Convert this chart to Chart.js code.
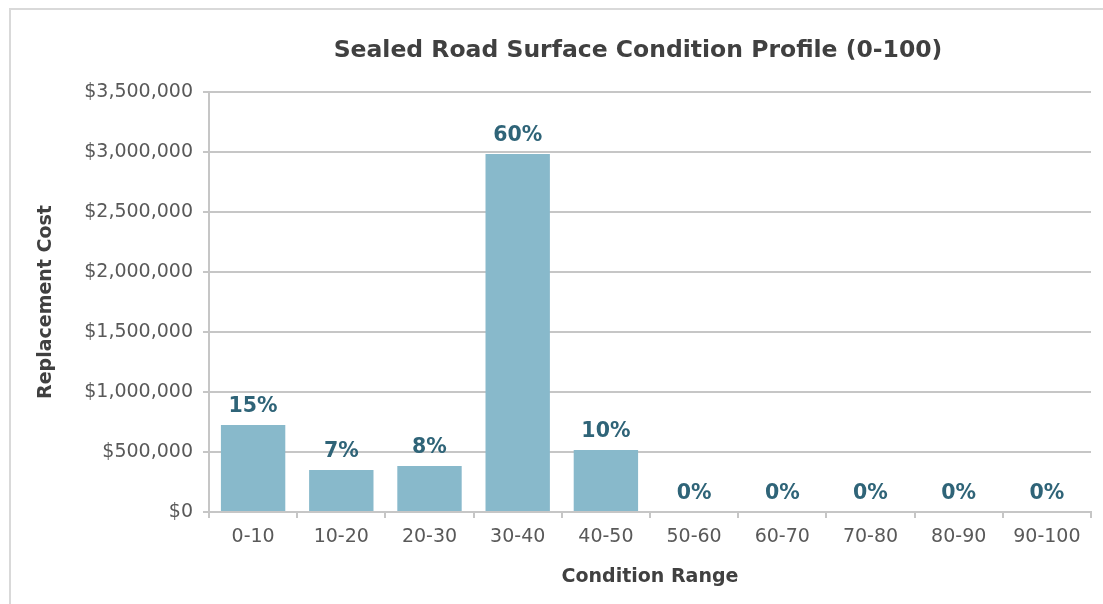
<!DOCTYPE html>
<html>
<head>
<meta charset="utf-8">
<script src="https://cdn.jsdelivr.net/npm/chart.js@4"></script>
<style>
html,body{margin:0;padding:0;background:#fff;overflow:hidden}
#frame{position:absolute;left:9px;top:8px;width:1200px;height:700px;border-left:2px solid #d9d9d9;border-top:2px solid #d9d9d9}
#wrap{position:absolute;left:0;top:0;width:1103px;height:604px}
</style>
</head>
<body>
<div id="frame"></div>
<div id="wrap"><canvas id="c" width="1103" height="604"></canvas></div>
<script>
// data
const ranges = ['0-10','10-20','20-30','30-40','40-50','50-60','60-70','70-80','80-90','90-100'];
const replacementCost = [725000, 350000, 383000, 2983000, 517000, 0, 0, 0, 0, 0];
const yMax = 3500000, yStep = 500000;

const chartTitle = 'Sealed Road Surface Condition Profile (0-100)';
const FONT = "'DejaVu Sans', Verdana, sans-serif";
const GRID = '#c6c6c6';

const total = replacementCost.reduce((a,b)=>a+b,0);
const pct = v => Math.round(v/total*100) + '%';

// title drawn over the plot
const titlePlugin = {
  id:'titleText',
  afterDraw(chart){
    const ctx = chart.ctx;
    ctx.save();
    ctx.font = 'bold 23.5px ' + FONT;
    ctx.fillStyle = '#404040';
    ctx.textAlign = 'center';
    ctx.textBaseline = 'middle';
    ctx.fillText(chartTitle, 638, 51);
    ctx.restore();
  }
};

// percentage labels above bars
const pctLabels = {
  id:'pctLabels',
  afterDatasetsDraw(chart){
    const ctx = chart.ctx;
    const meta = chart.getDatasetMeta(0);
    ctx.save();
    ctx.font = 'bold 20.5px ' + FONT;
    ctx.fillStyle = '#2f6478';
    ctx.textAlign = 'center';
    ctx.textBaseline = 'middle';
    meta.data.forEach((bar,i)=>{
      ctx.fillText(pct(replacementCost[i]), bar.x, bar.y - 18);
    });
    ctx.restore();
  }
};

new Chart(document.getElementById('c'), {
  type:'bar',
  data:{
    labels: ranges,
    datasets:[{
      data: replacementCost,
      backgroundColor:'#88b9cb',
      barPercentage:0.73,
      categoryPercentage:1
    }]
  },
  options:{
    responsive:false,
    animation:false,
    layout:{ padding:{ top:92, right:12, left:0, bottom:0 } },
    plugins:{ legend:{display:false}, tooltip:{enabled:false} },
    scales:{
      x:{
        grid:{ drawOnChartArea:false, color:GRID, lineWidth:2, tickLength:6, offset:true },
        border:{ color:GRID, width:2 },
        ticks:{ color:'#595959', font:{family:FONT, size:19}, padding:8 },
        title:{ display:true, text:'Condition Range', color:'#404040',
                font:{family:FONT, size:19, weight:'bold'}, padding:{top:0, bottom:16} },
        afterFit: s => { s.height = 92; }
      },
      y:{
        min:0, max:yMax,
        ticks:{ stepSize:yStep, color:'#595959', font:{family:FONT, size:19}, padding:10,
                callback: v => '$' + v.toLocaleString('en-US') },
        grid:{ color:GRID, lineWidth:2, tickLength:6 },
        border:{ color:GRID, width:2 },
        title:{ display:true, text:'Replacement Cost', color:'#404040',
                font:{family:FONT, size:19, weight:'bold'}, padding:{top:35, bottom:0} },
        afterFit: s => { s.width = 209; }
      }
    }
  },
  plugins:[titlePlugin, pctLabels]
});
</script>
</body>
</html>
